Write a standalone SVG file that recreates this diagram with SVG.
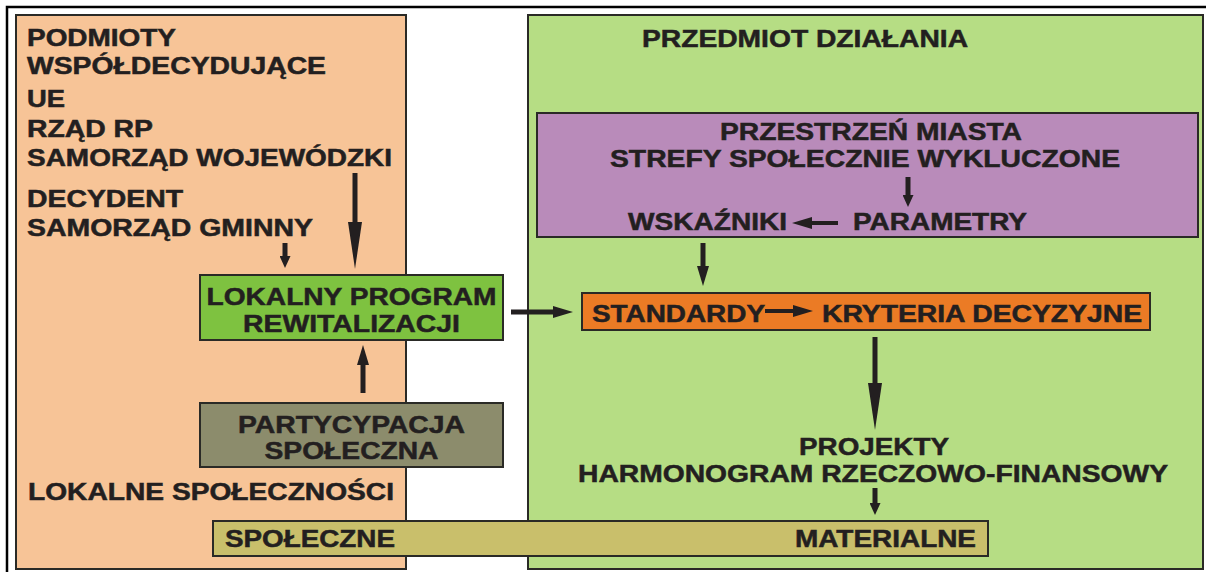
<svg xmlns="http://www.w3.org/2000/svg" width="1206" height="572" viewBox="0 0 1206 572">
<style>
text{font-family:"Liberation Sans",Arial,sans-serif;font-weight:bold;fill:#231f20;stroke:#231f20;stroke-width:0.5;}
.l{font-size:23px;}
.b{font-size:24px;}
.box{stroke:#2a2a26;stroke-width:2;}
.arr{stroke:#231f20;stroke-width:5;fill:none;}
.arr4{stroke:#231f20;stroke-width:4;fill:none;}
</style>
<defs>
<marker id="long" markerUnits="userSpaceOnUse" markerWidth="48" markerHeight="14" refX="0" refY="7" orient="auto"><path d="M0,0 L47,7 L0,14 Z" fill="#231f20"/></marker>
<marker id="med" markerUnits="userSpaceOnUse" markerWidth="21" markerHeight="12" refX="0" refY="6" orient="auto"><path d="M0,0 L20,6 L0,12 Z" fill="#231f20"/></marker>
<marker id="sml" markerUnits="userSpaceOnUse" markerWidth="13" markerHeight="11" refX="0" refY="5.5" orient="auto"><path d="M0,0 L12,5.5 L0,11 Z" fill="#231f20"/></marker>
</defs>
<rect x="0" y="0" width="1206" height="572" fill="#ffffff"/>
<g id="frame"><path d="M7,572 V7 H1206" fill="none" stroke="#000" stroke-width="2.5"/></g>

<g id="panel-podmioty">
<rect class="box" x="16" y="15" width="390" height="554" fill="#f7c497" stroke-width="1.5"/>
<text class="l" x="27" y="46" textLength="149" lengthAdjust="spacingAndGlyphs">PODMIOTY</text>
<text class="l" x="27" y="74" textLength="299" lengthAdjust="spacingAndGlyphs">WSPÓŁDECYDUJĄCE</text>
<text class="l" x="27" y="107" textLength="38" lengthAdjust="spacingAndGlyphs">UE</text>
<text class="l" x="27" y="137" textLength="126" lengthAdjust="spacingAndGlyphs">RZĄD RP</text>
<text class="l" x="27" y="166" textLength="365" lengthAdjust="spacingAndGlyphs">SAMORZĄD WOJEWÓDZKI</text>
<text class="l" x="27" y="207" textLength="156" lengthAdjust="spacingAndGlyphs">DECYDENT</text>
<text class="l" x="27" y="236" textLength="286" lengthAdjust="spacingAndGlyphs">SAMORZĄD GMINNY</text>
<text class="l" x="28" y="500" textLength="366" lengthAdjust="spacingAndGlyphs">LOKALNE SPOŁECZNOŚCI</text>
</g>

<g id="panel-przedmiot">
<rect class="box" x="528" y="15" width="675" height="554" fill="#b6dd84" stroke-width="1.5"/>
<text class="b" x="642" y="47" textLength="326" lengthAdjust="spacingAndGlyphs">PRZEDMIOT DZIAŁANIA</text>
</g>

<g id="przestrzen">
<rect class="box" x="537" y="113" width="661" height="124" fill="#b98bba"/>
<text class="b" x="720" y="140" textLength="302" lengthAdjust="spacingAndGlyphs">PRZESTRZEŃ MIASTA</text>
<text class="b" x="610" y="167" textLength="510" lengthAdjust="spacingAndGlyphs">STREFY SPOŁECZNIE WYKLUCZONE</text>
</g>
<g id="wskazniki"><text class="b" x="628" y="230" textLength="159" lengthAdjust="spacingAndGlyphs">WSKAŹNIKI</text></g>
<g id="parametry"><text class="b" x="853" y="230" textLength="174" lengthAdjust="spacingAndGlyphs">PARAMETRY</text></g>

<g id="kryteria">
<rect class="box" x="582" y="293" width="568" height="37" fill="#eb7b25"/>
<text class="b" x="592" y="322" textLength="173" lengthAdjust="spacingAndGlyphs">STANDARDY</text>
<text class="b" x="822" y="322" textLength="320" lengthAdjust="spacingAndGlyphs">KRYTERIA DECYZYJNE</text>
</g>

<g id="projekty">
<text class="b" x="799" y="455" textLength="150" lengthAdjust="spacingAndGlyphs">PROJEKTY</text>
<text class="b" x="578" y="482" textLength="590" lengthAdjust="spacingAndGlyphs">HARMONOGRAM RZECZOWO-FINANSOWY</text>
</g>

<g id="lpr">
<rect class="box" x="200" y="275" width="303" height="65" fill="#7ec240"/>
<text class="b" x="351.5" y="305" text-anchor="middle" textLength="290" lengthAdjust="spacingAndGlyphs">LOKALNY PROGRAM</text>
<text class="b" x="351.5" y="332" text-anchor="middle" textLength="217" lengthAdjust="spacingAndGlyphs">REWITALIZACJI</text>
</g>

<g id="partycypacja">
<rect class="box" x="200" y="403" width="303" height="64" fill="#8c8c6c"/>
<text class="b" x="351.5" y="433" text-anchor="middle" textLength="227" lengthAdjust="spacingAndGlyphs">PARTYCYPACJA</text>
<text class="b" x="351.5" y="459" text-anchor="middle" textLength="174" lengthAdjust="spacingAndGlyphs">SPOŁECZNA</text>
</g>

<g id="efekty">
<rect class="box" x="213" y="521" width="775" height="35" fill="#c9bf6b"/>
<text class="b" x="225" y="547" textLength="170" lengthAdjust="spacingAndGlyphs">SPOŁECZNE</text>
<text class="b" x="795" y="547" textLength="181" lengthAdjust="spacingAndGlyphs">MATERIALNE</text>
</g>

<g id="connectors">
<line class="arr" x1="355" y1="173" x2="355" y2="222" marker-end="url(#long)"/>
<line class="arr" x1="285" y1="243" x2="285" y2="256" marker-end="url(#sml)"/>
<line class="arr" x1="363" y1="393" x2="363" y2="365" marker-end="url(#med)"/>
<line class="arr" x1="511" y1="312" x2="553" y2="312" marker-end="url(#med)"/>
<line class="arr" x1="908" y1="177" x2="908" y2="195" marker-end="url(#sml)"/>
<line class="arr4" x1="838" y1="223" x2="812" y2="223" marker-end="url(#med)"/>
<line class="arr" x1="703" y1="243" x2="703" y2="266" marker-end="url(#med)"/>
<line class="arr4" x1="765" y1="311" x2="793" y2="311" marker-end="url(#med)"/>
<line class="arr" x1="875" y1="337" x2="875" y2="383" marker-end="url(#long)"/>
<line class="arr" x1="875" y1="488" x2="875" y2="503" marker-end="url(#sml)"/>
</g>
</svg>
